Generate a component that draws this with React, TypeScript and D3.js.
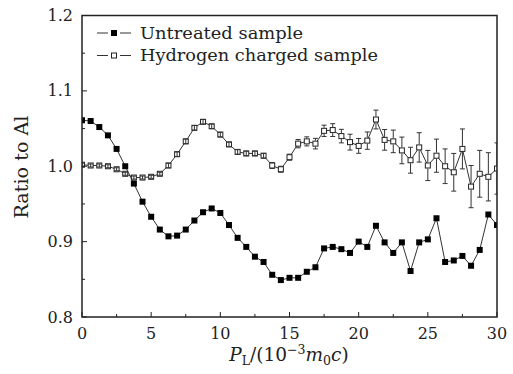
import React from "react";
import * as d3 from "d3";

const xValues = [0, 0.625, 1.25, 1.875, 2.5, 3.125, 3.75, 4.375, 5, 5.625, 6.25, 6.875, 7.5, 8.125, 8.75, 9.375, 10, 10.625, 11.25, 11.875, 12.5, 13.125, 13.75, 14.375, 15, 15.625, 16.25, 16.875, 17.5, 18.125, 18.75, 19.375, 20, 20.625, 21.25, 21.875, 22.5, 23.125, 23.75, 24.375, 25, 25.625, 26.25, 26.875, 27.5, 28.125, 28.75, 29.375, 30];
const untreated = [1.061, 1.06, 1.052, 1.041, 1.023, 1.0, 0.977, 0.953, 0.933, 0.916, 0.907, 0.908, 0.916, 0.928, 0.939, 0.944, 0.938, 0.922, 0.905, 0.893, 0.88, 0.873, 0.856, 0.849, 0.852, 0.852, 0.86, 0.866, 0.891, 0.893, 0.89, 0.885, 0.9, 0.893, 0.921, 0.899, 0.885, 0.899, 0.861, 0.899, 0.903, 0.931, 0.873, 0.875, 0.881, 0.868, 0.889, 0.936, 0.922];
const hydrogen = [1.002, 1.001, 1.001, 1.0, 0.996, 0.99, 0.985, 0.985, 0.986, 0.99, 1.001, 1.016, 1.033, 1.051, 1.059, 1.053, 1.042, 1.029, 1.019, 1.017, 1.017, 1.014, 1.001, 0.996, 1.012, 1.03, 1.033, 1.03, 1.047, 1.048, 1.04, 1.032, 1.027, 1.034, 1.062, 1.035, 1.033, 1.021, 1.008, 1.025, 1.001, 1.014, 1.0, 0.992, 1.023, 0.973, 0.99, 0.986, 0.997];
const hydrogenErr = [0.002, 0.002, 0.002, 0.002, 0.002, 0.002, 0.002, 0.002, 0.002, 0.002, 0.003, 0.003, 0.003, 0.003, 0.003, 0.003, 0.003, 0.003, 0.003, 0.003, 0.003, 0.003, 0.004, 0.004, 0.004, 0.0055, 0.006, 0.007, 0.0075, 0.0085, 0.009, 0.0105, 0.0098, 0.0115, 0.0125, 0.0137, 0.015, 0.0177, 0.0172, 0.0195, 0.02, 0.022, 0.023, 0.025, 0.0265, 0.028, 0.031, 0.032, 0.034];
const xTicks = [0, 5, 10, 15, 20, 25, 30];
const xMinor = [2.5, 7.5, 12.5, 17.5, 22.5, 27.5];
const yTicks = [0.8, 0.9, 1.0, 1.1, 1.2];
const yMinor = [0.85, 0.95, 1.05, 1.15];
const legendLabels = ["Untreated sample", "Hydrogen charged sample"];

const W = 513, H = 374;
const L = 82, R = 497, T = 15.5, B = 317;
const FONT = "DejaVu Serif";

export default function App() {
  const x = d3.scaleLinear().domain([0, 30]).range([L, R]);
  const y = d3.scaleLinear().domain([0.8, 1.2]).range([B, T]);
  const line = d3.line<number>().x((_, i) => x(xValues[i])).y((d) => y(d));
  const ms = 6;
  const h = ms / 2;

  return (
    <svg width={W} height={H} style={{ position: "absolute", left: 0, top: 0, background: "#fff" }}>
      <defs>
        <clipPath id="plot">
          <rect x={L} y={T} width={R - L} height={B - T} />
        </clipPath>
      </defs>
      <rect x={0} y={0} width={W} height={H} fill="#fff" />
      <g clipPath="url(#plot)">
        <path d={line(untreated) || ""} fill="none" stroke="#333" strokeWidth={1} />
        <path d={line(hydrogen) || ""} fill="none" stroke="#333" strokeWidth={1} />
        {untreated.map((v, i) => (
          <rect key={"u" + i} x={x(xValues[i]) - h} y={y(v) - h} width={ms} height={ms} fill="#000" />
        ))}
        {hydrogen.map((v, i) => (
          <rect key={"h" + i} x={x(xValues[i]) - h + 0.5} y={y(v) - h + 0.5} width={ms - 1} height={ms - 1} fill="#fff" stroke="#222" strokeWidth={1} />
        ))}
        {hydrogen.map((v, i) => {
          const cx = x(xValues[i]);
          const cy = y(v);
          const top = y(v + hydrogenErr[i]);
          const bot = y(v - hydrogenErr[i]);
          const big = cy - top > h;
          const cw = 2.5;
          return (
            <g key={"e" + i} stroke="#333" strokeWidth={1} fill="none">
              {big ? (
                <>
                  <line x1={cx} x2={cx} y1={top} y2={cy - h} />
                  <line x1={cx} x2={cx} y1={cy + h} y2={bot} />
                </>
              ) : (
                <line x1={cx} x2={cx} y1={top} y2={bot} />
              )}
              <line x1={cx - cw} x2={cx + cw} y1={top} y2={top} />
              <line x1={cx - cw} x2={cx + cw} y1={bot} y2={bot} />
            </g>
          );
        })}
      </g>
      {/* frame */}
      <rect x={L} y={T} width={R - L} height={B - T} fill="none" stroke="#222" strokeWidth={1.5} />
      {/* ticks */}
      {xTicks.map((t) => (
        <line key={"xt" + t} x1={x(t)} x2={x(t)} y1={B} y2={B - 5} stroke="#222" strokeWidth={1} />
      ))}
      {xMinor.map((t) => (
        <line key={"xm" + t} x1={x(t)} x2={x(t)} y1={B} y2={B - 3} stroke="#222" strokeWidth={1} />
      ))}
      {yTicks.map((t) => (
        <line key={"yt" + t} x1={L} x2={L + 5} y1={y(t)} y2={y(t)} stroke="#222" strokeWidth={1} />
      ))}
      {yMinor.map((t) => (
        <line key={"ym" + t} x1={L} x2={L + 3} y1={y(t)} y2={y(t)} stroke="#222" strokeWidth={1} />
      ))}
      {/* tick labels */}
      {xTicks.map((t) => (
        <text key={"xl" + t} x={x(t)} y={339} textAnchor="middle" fontFamily={FONT} fontSize={16} fill="#222">
          {t}
        </text>
      ))}
      {yTicks.map((t) => (
        <text key={"yl" + t} x={73} y={y(t) + 5.5} textAnchor="end" fontFamily={FONT} fontSize={16} fill="#222">
          {t.toFixed(1)}
        </text>
      ))}
      {/* axis labels */}
      <text transform={`translate(28,167) rotate(-90)`} textAnchor="middle" fontFamily={FONT} fontSize={18.5} fill="#222" textLength={103} lengthAdjust="spacingAndGlyphs">
        Ratio to Al
      </text>
      <text x={289} y={361} textAnchor="middle" fontFamily={FONT} fontSize={18.5} fill="#222">
        <tspan fontStyle="italic">P</tspan>
        <tspan fontSize={12.5} dy={3.5}>L</tspan>
        <tspan dy={-3.5}>/(10</tspan>
        <tspan fontSize={12.5} dy={-7}>−3</tspan>
        <tspan fontStyle="italic" dy={7}>m</tspan>
        <tspan fontSize={12.5} dy={3.5}>0</tspan>
        <tspan fontStyle="italic" dy={-3.5}>c</tspan>
        <tspan>)</tspan>
      </text>
      {/* legend */}
      {legendLabels.map((lab, i) => {
        const ly = 33 + i * 22.5;
        return (
          <g key={"lg" + i}>
            <line x1={97} x2={108} y1={ly} y2={ly} stroke="#333" strokeWidth={1} />
            <line x1={120} x2={131} y1={ly} y2={ly} stroke="#333" strokeWidth={1} />
            {i === 0 ? (
              <rect x={111} y={ly - 3} width={6} height={6} fill="#000" />
            ) : (
              <rect x={111.5} y={ly - 2.5} width={5} height={5} fill="#fff" stroke="#222" strokeWidth={1} />
            )}
            <text x={140} y={ly + 5.5} fontFamily={FONT} fontSize={16} fill="#222" textLength={i === 0 ? 163 : 238} lengthAdjust="spacingAndGlyphs">
              {lab}
            </text>
          </g>
        );
      })}
    </svg>
  );
}
